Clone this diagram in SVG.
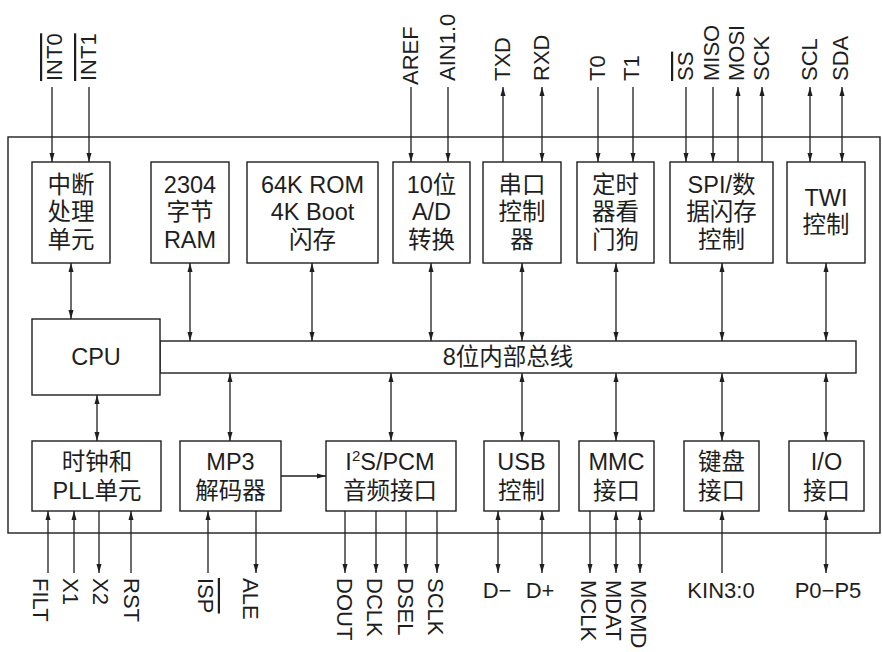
<svg xmlns="http://www.w3.org/2000/svg" width="882" height="652" viewBox="0 0 882 652">
<style>
  .box { fill: #ffffff; stroke: #1e1e1e; stroke-width: 1.4; }
  .t { font-family: "Liberation Sans", "Noto Sans CJK SC", sans-serif; font-size: 23.5px; fill: #1e1e1e; text-anchor: middle; }
  .h { font-family: "Liberation Sans", "Noto Sans CJK SC", sans-serif; font-size: 22px; fill: #1e1e1e; text-anchor: middle; }
  .p { font-family: "Liberation Sans", "Noto Sans CJK SC", sans-serif; font-size: 22px; fill: #1e1e1e; text-anchor: start; }
  .ov { text-decoration: overline; }
  .c line { stroke: #1e1e1e; stroke-width: 1.3; fill: none; }
  .e { marker-end: url(#ah); }
  .b { marker-start: url(#ah); marker-end: url(#ah); }
</style>
<defs>
  <marker id="ah" viewBox="0 0 9 6" refX="9" refY="3" markerWidth="9" markerHeight="6" markerUnits="userSpaceOnUse" orient="auto-start-reverse">
    <path d="M0,0.5 L9,3 L0,5.5 z" fill="#1e1e1e"/>
  </marker>
</defs>
<rect x="0" y="0" width="882" height="652" fill="#ffffff"/>

<g id="frame"><rect class="box" x="8" y="137" width="872" height="396" fill="none"/></g>

<!-- top row -->
<g id="int"><rect class="box" x="32" y="162" width="78" height="101"/>
  <text class="t" x="71" y="193">中断</text><text class="t" x="71" y="220">处理</text><text class="t" x="71" y="248">单元</text></g>
<g id="ram"><rect class="box" x="151" y="162" width="78" height="101"/>
  <text class="t" x="190" y="193">2304</text><text class="t" x="190" y="220">字节</text><text class="t" x="190" y="248">RAM</text></g>
<g id="rom"><rect class="box" x="247" y="162" width="131" height="101"/>
  <text class="t" x="312.5" y="193">64K ROM</text><text class="t" x="312.5" y="220">4K Boot</text><text class="t" x="312.5" y="248">闪存</text></g>
<g id="adc"><rect class="box" x="393" y="162" width="77" height="101"/>
  <text class="t" x="431.5" y="193">10位</text><text class="t" x="431.5" y="220">A/D</text><text class="t" x="431.5" y="248">转换</text></g>
<g id="uart"><rect class="box" x="483" y="162" width="78" height="101"/>
  <text class="t" x="522" y="193">串口</text><text class="t" x="522" y="220">控制</text><text class="t" x="522" y="248">器</text></g>
<g id="timer"><rect class="box" x="577" y="162" width="77" height="101"/>
  <text class="t" x="615.5" y="193">定时</text><text class="t" x="615.5" y="220">器看</text><text class="t" x="615.5" y="248">门狗</text></g>
<g id="spi"><rect class="box" x="670" y="162" width="103" height="101"/>
  <text class="t" x="721.5" y="193">SPI/数</text><text class="t" x="721.5" y="220">据闪存</text><text class="t" x="721.5" y="248">控制</text></g>
<g id="twi"><rect class="box" x="787" y="162" width="78" height="101"/>
  <text class="t" x="826" y="206">TWI</text><text class="t" x="826" y="233">控制</text></g>

<!-- CPU and bus -->
<g id="bus"><rect class="box" x="160" y="341" width="696" height="32"/>
  <text class="t" x="508" y="365">8位内部总线</text></g>
<g id="cpu"><rect class="box" x="32" y="319" width="128" height="76"/>
  <text class="t" x="96" y="365">CPU</text></g>

<!-- bottom row -->
<g id="clk"><rect class="box" x="32" y="441" width="129" height="70"/>
  <text class="t" x="97" y="470">时钟和</text><text class="t" x="97" y="499">PLL单元</text></g>
<g id="mp3"><rect class="box" x="180" y="441" width="101" height="70"/>
  <text class="t" x="230.5" y="470">MP3</text><text class="t" x="230.5" y="499">解码器</text></g>
<g id="i2s"><rect class="box" x="326" y="441" width="130" height="70"/>
  <text class="t" x="390" y="470">I<tspan font-size="15" dy="-9">2</tspan><tspan dy="9">S/PCM</tspan></text><text class="t" x="390" y="499">音频接口</text></g>
<g id="usb"><rect class="box" x="484" y="441" width="75" height="70"/>
  <text class="t" x="521.5" y="470">USB</text><text class="t" x="521.5" y="499">控制</text></g>
<g id="mmc"><rect class="box" x="579" y="441" width="75" height="70"/>
  <text class="t" x="616.5" y="470">MMC</text><text class="t" x="616.5" y="499">接口</text></g>
<g id="kbd"><rect class="box" x="684" y="441" width="75" height="70"/>
  <text class="t" x="721.5" y="470">键盘</text><text class="t" x="721.5" y="499">接口</text></g>
<g id="io"><rect class="box" x="789" y="441" width="75" height="70"/>
  <text class="t" x="826.5" y="470">I/O</text><text class="t" x="826.5" y="499">接口</text></g>

<!-- connectors -->
<g id="connectors" class="c">
  <!-- top pins -->
  <line class="e" x1="52" y1="87" x2="52" y2="162"/>
  <line class="e" x1="89" y1="87" x2="89" y2="162"/>
  <line class="e" x1="411" y1="87" x2="411" y2="162"/>
  <line class="e" x1="448" y1="87" x2="448" y2="162"/>
  <line class="e" x1="503" y1="162" x2="503" y2="87"/>
  <line class="b" x1="542" y1="87" x2="542" y2="162"/>
  <line class="e" x1="598" y1="87" x2="598" y2="162"/>
  <line class="e" x1="633" y1="87" x2="633" y2="162"/>
  <line class="e" x1="686" y1="87" x2="686" y2="162"/>
  <line class="e" x1="713" y1="87" x2="713" y2="162"/>
  <line class="e" x1="738" y1="162" x2="738" y2="87"/>
  <line class="e" x1="762" y1="162" x2="762" y2="87"/>
  <line class="b" x1="810" y1="87" x2="810" y2="162"/>
  <line class="b" x1="842" y1="87" x2="842" y2="162"/>
  <!-- top row to bus -->
  <line class="b" x1="71" y1="263" x2="71" y2="319"/>
  <line class="b" x1="190" y1="263" x2="190" y2="341"/>
  <line class="b" x1="312" y1="263" x2="312" y2="341"/>
  <line class="b" x1="431" y1="263" x2="431" y2="341"/>
  <line class="b" x1="522" y1="263" x2="522" y2="341"/>
  <line class="b" x1="616" y1="263" x2="616" y2="341"/>
  <line class="b" x1="722" y1="263" x2="722" y2="341"/>
  <line class="b" x1="826" y1="263" x2="826" y2="341"/>
  <!-- bus to bottom row -->
  <line class="b" x1="97" y1="395" x2="97" y2="441"/>
  <line class="b" x1="230" y1="373" x2="230" y2="441"/>
  <line class="b" x1="391" y1="373" x2="391" y2="441"/>
  <line class="b" x1="522" y1="373" x2="522" y2="441"/>
  <line class="b" x1="616" y1="373" x2="616" y2="441"/>
  <line class="b" x1="722" y1="373" x2="722" y2="441"/>
  <line class="b" x1="826" y1="373" x2="826" y2="441"/>
  <!-- MP3 to I2S -->
  <line class="e" x1="281" y1="476" x2="326" y2="476"/>
  <!-- bottom pins -->
  <line class="e" x1="48" y1="573" x2="48" y2="511"/>
  <line class="e" x1="74" y1="573" x2="74" y2="511"/>
  <line class="e" x1="99" y1="511" x2="99" y2="573"/>
  <line class="e" x1="131" y1="573" x2="131" y2="511"/>
  <line class="e" x1="208" y1="573" x2="208" y2="511"/>
  <line class="e" x1="256" y1="511" x2="256" y2="573"/>
  <line class="e" x1="345" y1="511" x2="345" y2="573"/>
  <line class="e" x1="376" y1="511" x2="376" y2="573"/>
  <line class="e" x1="406" y1="511" x2="406" y2="573"/>
  <line class="e" x1="437" y1="511" x2="437" y2="573"/>
  <line class="b" x1="498" y1="511" x2="498" y2="573"/>
  <line class="b" x1="542" y1="511" x2="542" y2="573"/>
  <line class="e" x1="590" y1="511" x2="590" y2="573"/>
  <line class="b" x1="616" y1="511" x2="616" y2="573"/>
  <line class="b" x1="640" y1="511" x2="640" y2="573"/>
  <line class="e" x1="722" y1="573" x2="722" y2="511"/>
  <line class="b" x1="826" y1="511" x2="826" y2="573"/>
</g>

<!-- pin labels top -->
<g id="pins-top">
  <text class="p ov" transform="translate(62,81) rotate(-90)">INT0</text>
  <text class="p ov" transform="translate(96,81) rotate(-90)">INT1</text>
  <text class="p" transform="translate(418,85) rotate(-90)">AREF</text>
  <text class="p" transform="translate(455,81) rotate(-90)">AIN1.0</text>
  <text class="p" transform="translate(510,81) rotate(-90)">TXD</text>
  <text class="p" transform="translate(549,81) rotate(-90)">RXD</text>
  <text class="p" transform="translate(605,81) rotate(-90)">T0</text>
  <text class="p" transform="translate(639,81) rotate(-90)">T1</text>
  <text class="p ov" transform="translate(693,81) rotate(-90)">SS</text>
  <text class="p" transform="translate(719,81) rotate(-90)">MISO</text>
  <text class="p" transform="translate(744,81) rotate(-90)">MOSI</text>
  <text class="p" transform="translate(769,81) rotate(-90)">SCK</text>
  <text class="p" transform="translate(817,81) rotate(-90)">SCL</text>
  <text class="p" transform="translate(848,81) rotate(-90)">SDA</text>
</g>

<!-- pin labels bottom -->
<g id="pins-bottom">
  <text class="p" transform="translate(33,578) rotate(90)">FILT</text>
  <text class="p" transform="translate(63,578) rotate(90)">X1</text>
  <text class="p" transform="translate(93,578) rotate(90)">X2</text>
  <text class="p" transform="translate(124,578) rotate(90)">RST</text>
  <text class="p ov" transform="translate(198,578) rotate(90)">ISP</text>
  <text class="p" transform="translate(243,578) rotate(90)">ALE</text>
  <text class="p" transform="translate(337,578) rotate(90)">DOUT</text>
  <text class="p" transform="translate(367,578) rotate(90)">DCLK</text>
  <text class="p" transform="translate(398,578) rotate(90)">DSEL</text>
  <text class="p" transform="translate(428,578) rotate(90)">SCLK</text>
  <text class="p" transform="translate(581,580) rotate(90)">MCLK</text>
  <text class="p" transform="translate(606,580) rotate(90)">MDAT</text>
  <text class="p" transform="translate(631,580) rotate(90)">MCMD</text>
  <text class="h" x="497" y="598">D−</text>
  <text class="h" x="540" y="598">D+</text>
  <text class="h" x="721" y="598">KIN3:0</text>
  <text class="h" x="828" y="598">P0−P5</text>
</g>
</svg>
